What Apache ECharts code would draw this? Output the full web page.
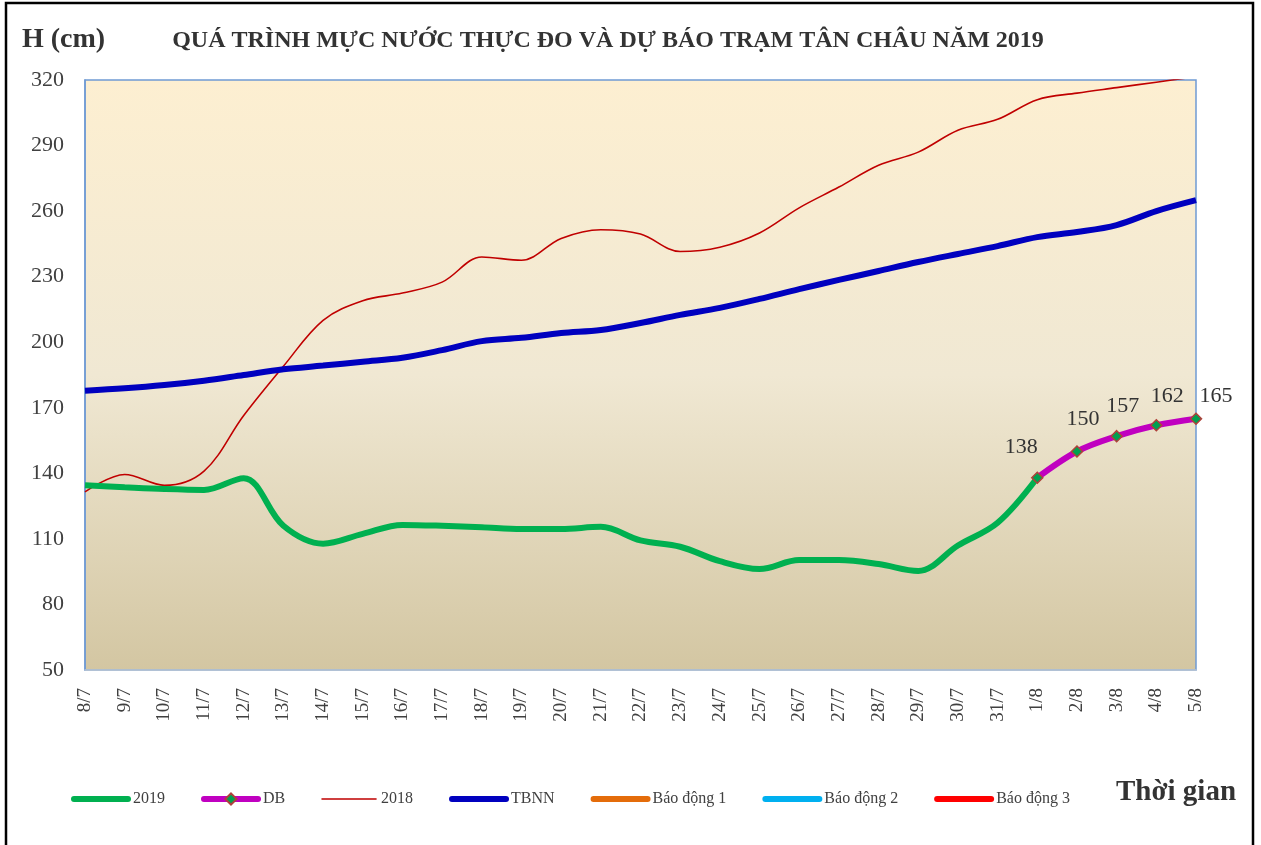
<!DOCTYPE html>
<html>
<head>
<meta charset="utf-8">
<script src="https://cdn.jsdelivr.net/npm/echarts@6/dist/echarts.min.js"></script>
<style>
html,body{margin:0;padding:0;background:#fff;}
#chart{width:1261px;height:845px;}
</style>
</head>
<body>
<div id="chart"></div>
<script>
var categories = ['8/7','9/7','10/7','11/7','12/7','13/7','14/7','15/7','16/7','17/7','18/7','19/7','20/7','21/7','22/7','23/7','24/7','25/7','26/7','27/7','28/7','29/7','30/7','31/7','1/8','2/8','3/8','4/8','5/8'];
var yTicks = [50, 80, 110, 140, 170, 200, 230, 260, 290, 320];
var s2019 = [134.5,133.6,132.8,132.4,137.8,116,107.8,112.3,116.4,116,115.3,114.5,114.5,115.5,109.3,106.4,99.8,96.2,100.3,100.3,98.5,95.3,107,117.4,138,null,null,null,null];
var sDB = [null,null,null,null,null,null,null,null,null,null,null,null,null,null,null,null,null,null,null,null,null,null,null,null,138,150,157,162,165];
var s2018 = [131.5,139.5,134.5,141,166.5,189,210,219,222.5,227.5,239,237.5,247.5,251.5,249.5,241.5,243.5,250,261.5,271,281,287,297,302,311,314,316.5,319,321.5];
var sTBNN = [177.8,178.9,180.4,182.4,185,187.6,189.3,191.1,192.9,196.4,200.5,202,204.2,205.6,208.8,212.5,215.7,219.8,224.3,228.5,232.6,236.7,240.4,244,248.1,250.4,253.6,260,265];
var sBD1 = [];
var sBD2 = [];
var sBD3 = [];
var seriesNames = ['2019','DB','2018','TBNN','Báo động 1','Báo động 2','Báo động 3'];

// label offsets for DB points (style only)
var dbLabelOffsets = [[-16,-8],[6,-10],[6,-8],[11,-7],[20,0]];
var seriesColors = ['#00B050','#C000C0','#C00000','#0000BF','#E46C0A','#00B0F0','#FF0000'];
var seriesWidths = [6,6,1.6,6,6,6,6];

var chart = echarts.init(document.getElementById('chart'));
var dbData = sDB.map(function(v, i){
  if (v === null) return null;
  var k = i - (sDB.length - dbLabelOffsets.length);
  return { value: v, label: { offset: dbLabelOffsets[k] } };
});

var legendData = seriesNames.map(function(n, i){
  var item = {
    name: n,
    lineStyle: {width: seriesWidths[i], color: seriesColors[i], cap: 'round'}
  };
  if (n !== 'DB') {
    item.itemStyle = {color: 'rgba(0,0,0,0)', borderColor: 'rgba(0,0,0,0)', borderWidth: 0};
  }
  return item;
});

var serif = "'Liberation Serif','Times New Roman',serif";
var option = {
  backgroundColor: '#ffffff',
  animation: false,
  grid: {
    left: 85, right: 65, top: 80, bottom: 175,
    show: true,
    borderColor: '#6F9AD3',
    borderWidth: 1.5,
    backgroundColor: {
      type: 'linear', x: 0, y: 0, x2: 0, y2: 1,
      colorStops: [
        {offset: 0, color: '#FDEFD1'},
        {offset: 0.5, color: '#F0E8D3'},
        {offset: 1, color: '#D3C6A2'}
      ]
    }
  },
  xAxis: {
    type: 'category',
    data: categories,
    boundaryGap: false,
    axisLine: {show: true, lineStyle: {color: '#BCC6D2', width: 1.5}},
    axisTick: {show: false},
    axisLabel: {rotate: 90, margin: 18, fontSize: 19, color: '#404040', fontFamily: serif, interval: 0},
    splitLine: {show: false}
  },
  yAxis: {
    type: 'value',
    min: yTicks[0], max: yTicks[yTicks.length-1], interval: yTicks[1]-yTicks[0],
    axisLine: {show: true, lineStyle: {color: '#6F9AD3', width: 1.5}},
    axisTick: {show: false},
    axisLabel: {margin: 21, fontSize: 22, color: '#404040', fontFamily: serif},
    splitLine: {show: false}
  },
  legend: {
    left: 66, top: 786,
    itemWidth: 54, itemHeight: 14, itemGap: 36,
    textStyle: {fontSize: 16, color: '#404040', fontFamily: serif},
    data: legendData
  },
  graphic: [
    {type: 'rect', shape: {x: 6, y: 3, width: 1247, height: 900}, style: {fill: 'none', stroke: '#000', lineWidth: 2.5}, silent: true},
    {type: 'text', left: 22, top: 26, style: {text: 'H (cm)', font: 'bold 28px ' + serif, fill: '#333333'}},
    {type: 'text', x: 608, y: 41, style: {text: 'QUÁ TRÌNH MỰC NƯỚC THỰC ĐO VÀ DỰ BÁO TRẠM TÂN CHÂU NĂM 2019', font: 'bold 24px ' + serif, fill: '#333333', textAlign: 'center', textVerticalAlign: 'middle'}},
    {type: 'text', x: 1176, y: 793, style: {text: 'Thời gian', font: 'bold 29px ' + serif, fill: '#333333', textAlign: 'center', textVerticalAlign: 'middle'}}
  ],
  series: [
    {name: '2019', type: 'line', data: s2019, smooth: 0.35, showSymbol: false, symbol: 'none',
     lineStyle: {color: seriesColors[0], width: seriesWidths[0]}, itemStyle: {color: seriesColors[0]}, z: 3},
    {name: 'DB', type: 'line', data: dbData, smooth: 0.35, symbol: 'diamond', symbolSize: 11,
     lineStyle: {color: seriesColors[1], width: seriesWidths[1]},
     itemStyle: {color: '#00A050', borderColor: '#B0403A', borderWidth: 1.5},
     label: {show: true, position: 'top', fontSize: 22, color: '#333333', fontFamily: serif},
     z: 4},
    {name: '2018', type: 'line', data: s2018, smooth: 0.35, showSymbol: false, symbol: 'none',
     lineStyle: {color: seriesColors[2], width: seriesWidths[2]}, itemStyle: {color: seriesColors[2]}, z: 2},
    {name: 'TBNN', type: 'line', data: sTBNN, smooth: 0.35, showSymbol: false, symbol: 'none',
     lineStyle: {color: seriesColors[3], width: seriesWidths[3]}, itemStyle: {color: seriesColors[3]}, z: 2},
    {name: 'Báo động 1', type: 'line', data: sBD1, symbol: 'none', lineStyle: {color: seriesColors[4], width: 6}, itemStyle: {color: seriesColors[4]}},
    {name: 'Báo động 2', type: 'line', data: sBD2, symbol: 'none', lineStyle: {color: seriesColors[5], width: 6}, itemStyle: {color: seriesColors[5]}},
    {name: 'Báo động 3', type: 'line', data: sBD3, symbol: 'none', lineStyle: {color: seriesColors[6], width: 6}, itemStyle: {color: seriesColors[6]}}
  ]
};
chart.setOption(option);
</script>
</body>
</html>
